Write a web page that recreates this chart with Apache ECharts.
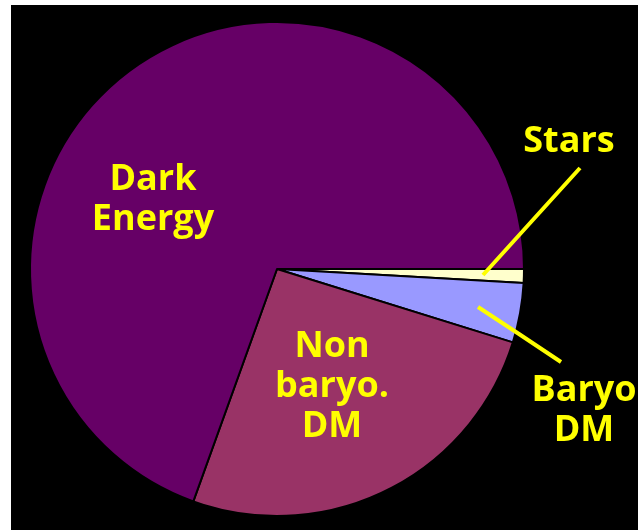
<!DOCTYPE html>
<html>
<head>
<meta charset="utf-8">
<script src="https://cdn.jsdelivr.net/npm/echarts@6/dist/echarts.min.js"></script>
<style>
  html, body { margin: 0; padding: 0; background: #ffffff; width: 638px; height: 530px; overflow: hidden; }
  #chart { position: absolute; left: 11px; top: 5px; width: 627px; height: 525px; background: #000000; }
</style>
</head>
<body>
<div id="chart"></div>
<script>
// Data (percent of the universe's energy budget)
const categories = ['Stars', 'Baryo DM', 'Non baryo. DM', 'Dark Energy'];
const labelTexts = ['Stars', 'Baryo\nDM', 'Non\nbaryo.\nDM', 'Dark\nEnergy'];
const values = [0.9, 3.9, 25.7, 69.5];

const sliceColors = ['#FFFFCC', '#9999FF', '#993366', '#660066'];
const outsideLabel = [true, true, false, false];

// label placement (annotation layout, not data)
const labelPos = [
  { x: 558, y: 137, line: [[472, 270], [520, 217], [569, 163]] },
  { x: 573, y: 406, line: [[467, 302], [508, 329], [550, 357]] },
  { x: 321, y: 382 },
  { x: 142, y: 195 }
];

const chart = echarts.init(document.getElementById('chart'), null, { renderer: 'canvas' });

const labelFont = {
  color: '#FFFF00',
  fontFamily: 'Open Sans',
  fontWeight: 'bold',
  fontSize: 36,
  lineHeight: 40,
  align: 'center'
};

function layoutFn(params) {
  const p = labelPos[params.dataIndex];
  const out = { x: p.x, y: p.y, align: 'center', verticalAlign: 'middle' };
  if (p.line) out.labelLinePoints = p.line;
  return out;
}

// slices + inside labels
const sliceData = categories.map((name, i) => ({
  name: name,
  value: values[i],
  itemStyle: { color: sliceColors[i] },
  label: { show: !outsideLabel[i], position: 'inside', formatter: labelTexts[i] },
  labelLine: { show: false }
}));

// overlay (transparent) carrying the outside labels and leader lines on top of the slices
const overlayData = categories.map((name, i) => ({
  name: name,
  value: values[i],
  itemStyle: { color: 'rgba(0,0,0,0)', borderWidth: 0 },
  label: { show: outsideLabel[i], position: 'outside', formatter: labelTexts[i] },
  labelLine: { show: outsideLabel[i], lineStyle: { color: '#FFFF00', width: 4 } }
}));

const common = {
  type: 'pie',
  center: [266, 264],
  radius: [0, 247],
  startAngle: 0,
  clockwise: true,
  avoidLabelOverlap: false,
  silent: true,
  label: labelFont,
  labelLine: { smooth: false, length: 10, length2: 10 },
  labelLayout: layoutFn,
  emphasis: { disabled: true }
};

chart.setOption({
  animation: false,
  backgroundColor: '#000000',
  series: [
    Object.assign({}, common, {
      itemStyle: { borderColor: '#000000', borderWidth: 2 },
      data: sliceData
    }),
    Object.assign({}, common, {
      z: 3,
      itemStyle: { borderWidth: 0 },
      data: overlayData
    })
  ]
});
</script>
</body>
</html>
